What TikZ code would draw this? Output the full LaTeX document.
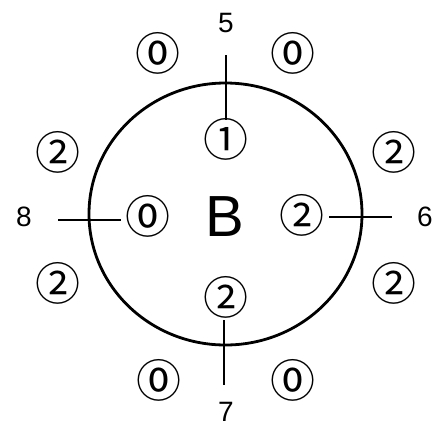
\documentclass[tikz,border=0pt]{standalone}
\usepackage{fontspec}
\setmainfont{Liberation Sans}
\newfontfamily\circfont{Noto Sans CJK JP}
\begin{document}
\begin{tikzpicture}[x=1pt,y=-1pt,
  circd/.style={inner sep=0pt, font=\circfont\fontsize{45}{45}\selectfont},
  lab/.style={inner sep=0pt, font=\fontsize{28}{28}\selectfont},
  tick/.style={line width=2.2pt},
  rim/.style={line width=2.8pt}]
\useasboundingbox (0,0) rectangle (434,426);
\draw[rim] (225.5,214) ellipse [x radius=136.5, y radius=131];
% labels
\node[lab] (l5) at (226,23) {5};
\node[lab] (l8) at (24,217) {8};
\node[lab] (l6) at (425,217) {6};
\node[lab] (l7) at (226,412) {7};
\node[inner sep=0pt, font=\fontsize{58}{58}\selectfont] (b) at (225,217) {B};
% circled digits
\node[circd] (t1) at (226,139) {①};
\node[circd] (ctl) at (158,53) {⓪};
\node[circd] (ctr) at (293,53) {⓪};
\node[circd] (ul) at (58,152) {②};
\node[circd] (ur) at (394,152) {②};
\node[circd] (ml) at (148,216) {⓪};
\node[circd] (mr) at (302,215) {②};
\node[circd] (ll) at (58,283) {②};
\node[circd] (lr) at (394,283) {②};
\node[circd] (bm) at (226,297) {②};
\node[circd] (cbl) at (159,380) {⓪};
\node[circd] (cbr) at (293,380) {⓪};
% ticks
\coordinate (a1) at (226,55);
\coordinate (a2) at (226,120);
\coordinate (b1) at (58,220);
\coordinate (b2) at (121,220);
\coordinate (c1) at (329,217);
\coordinate (c2) at (392,217);
\coordinate (d1) at (224,320);
\coordinate (d2) at (224,385);
\draw[tick] (a1) -- (a2);
\draw[tick] (b1) -- (b2);
\draw[tick] (c1) -- (c2);
\draw[tick] (d1) -- (d2);
\end{tikzpicture}
\end{document}
